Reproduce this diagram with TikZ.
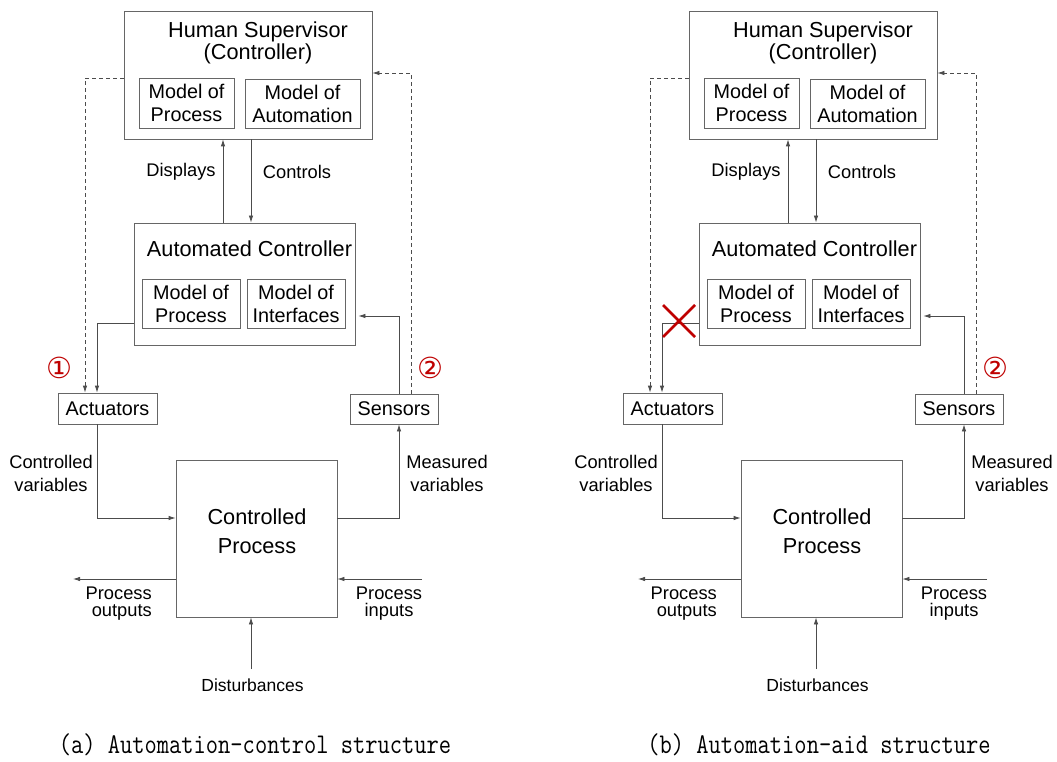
\documentclass[tikz,border=0pt]{standalone}
\usepackage{fontspec}
\setmainfont{Liberation Sans}
\newfontfamily\circfont{DejaVu Sans}
\usetikzlibrary{arrows.meta}

\begin{document}
\begin{tikzpicture}[x=1pt,y=-1pt,
    box/.style={draw=black!60, line width=0.8pt, inner sep=0pt},
    arr/.style={draw=black!70, line width=0.8pt, -{Latex[length=7pt,width=4.5pt]}},
    dasharr/.style={arr, dash pattern=on 4pt off 3pt},
    bigtxt/.style={font=\fontsize{21.7}{22}\selectfont, inner sep=0pt, align=center},
    midtxt/.style={font=\fontsize{19.8}{23}\selectfont, inner sep=0pt, align=center},
    smalltxt/.style={font=\fontsize{18.3}{23}\selectfont, inner sep=0pt, align=center},
    numtxt/.style={font=\circfont\fontsize{29}{29}\selectfont, text=red!75!black, inner sep=0pt},
    captxt/.style={font=\ttfamily\fontsize{23.8}{24}\selectfont, inner sep=0pt}]
    \useasboundingbox[fill=white] (0,0) rectangle (1057,762);
    \def\drawpanel{
        % human supervisor
        \node[box, minimum width=248pt, minimum height=128pt] (hs) at (248,75) {};
        \node[bigtxt] (hstitle) at (258,43) {Human Supervisor\\(Controller)};
        \node[box, midtxt, minimum width=95pt, minimum height=50pt] (hsproc) at (186.5,103) {Model of\\Process};
        \node[box, midtxt, minimum width=115pt, minimum height=49pt] (hsauto) at (302.5,103.5) {Model of\\Automation};
        % automated controller
        \node[box, minimum width=221pt, minimum height=122pt] (ac) at (244.5,284) {};
        \node[bigtxt] (actitle) at (249.5,249) {Automated Controller};
        \node[box, midtxt, minimum width=98pt, minimum height=49pt] (acproc) at (191,303.5) {Model of\\Process};
        \node[box, midtxt, minimum width=98pt, minimum height=49pt] (acintf) at (296,303.5) {Model of\\Interfaces};
        % actuators, sensors, process
        \node[box, midtxt, minimum width=99pt, minimum height=31pt] (act) at (107.5,408.5) {Actuators};
        \node[box, midtxt, minimum width=88pt, minimum height=30pt] (sen) at (394,409) {Sensors};
        \node[box, minimum width=161pt, minimum height=157pt] (cp) at (256.5,538.5) {};
        \node[bigtxt, font=\fontsize{21.7}{29}\selectfont] (cptitle) at (257,531) {Controlled\\Process};
        \coordinate (pout) at (73,579);
        \coordinate (pin) at (422,579);
        \coordinate (dist) at (251,669);
        % connectors
        \draw[arr] ([xshift=-21.5pt]ac.north) -- ([xshift=-21.5pt]ac.north |- hs.south);
        \draw[arr] ([xshift=3pt]hs.south) -- ([xshift=3pt]hs.south |- ac.north);
        \draw[arr] ([yshift=-39pt]ac.west) -| ([xshift=-10.5pt]act.north);
        \draw[dasharr] ([yshift=-3pt]hs.west) -| ([xshift=-22.5pt]act.north);
        \draw[dasharr] ([xshift=17pt]sen.north) |- ([yshift=2pt]hs.east);
        \draw[arr, shorten >=3pt] ([xshift=5pt]sen.north) |- ([yshift=-32pt]ac.east);
        \draw[arr] ([xshift=-10.5pt]act.south) |- ([yshift=20.5pt]cp.west);
        \draw[arr] ([yshift=20.5pt]cp.east) -| ([xshift=5pt]sen.south);
        \draw[arr] (cp.west |- pout) -- (pout);
        \draw[arr] (pin) -- (cp.east |- pin);
        \draw[arr] (dist) -- (cp.south -| dist);
        % labels
        \node[smalltxt] (displbl) at (181,172) {Displays};
        \node[smalltxt] (ctrllbl) at (297,172) {Controls};
        \node[smalltxt] (cvlbl) at (51,473) {Controlled\\variables};
        \node[smalltxt] (mvlbl) at (447,473) {Measured\\variables};
        \node[smalltxt, align=right, font=\fontsize{18.3}{17}\selectfont, anchor=east] (polbl) at (152,604) {Process\\outputs};
        \node[smalltxt, font=\fontsize{18.3}{17}\selectfont] (pilbl) at (389,604) {Process\\inputs};
        \node[smalltxt, font=\fontsize{17.5}{20}\selectfont] (distlbl) at (252.5,685) {Disturbances};
        \node[numtxt] (two) at (430.5,368) {②};
    }
    % (a) automation-control
    \begin{scope}[name prefix=a-]
        \drawpanel
        \node[numtxt] (one) at (59,368) {①};
    \end{scope}
    % (b) automation-aid
    \begin{scope}[xshift=565pt, name prefix=b-]
        \drawpanel
        \draw[red!75!black, line width=2.5pt] (98,305) -- (130,337) (98,337) -- (130,305);
    \end{scope}
    \node[captxt] (capa) at (255,745) {\scalebox{1}[1.2]{(a) Automation-control structure}};
    \node[captxt] (capb) at (819,745) {\scalebox{1}[1.2]{(b) Automation-aid structure}};
\end{tikzpicture}
\end{document}
